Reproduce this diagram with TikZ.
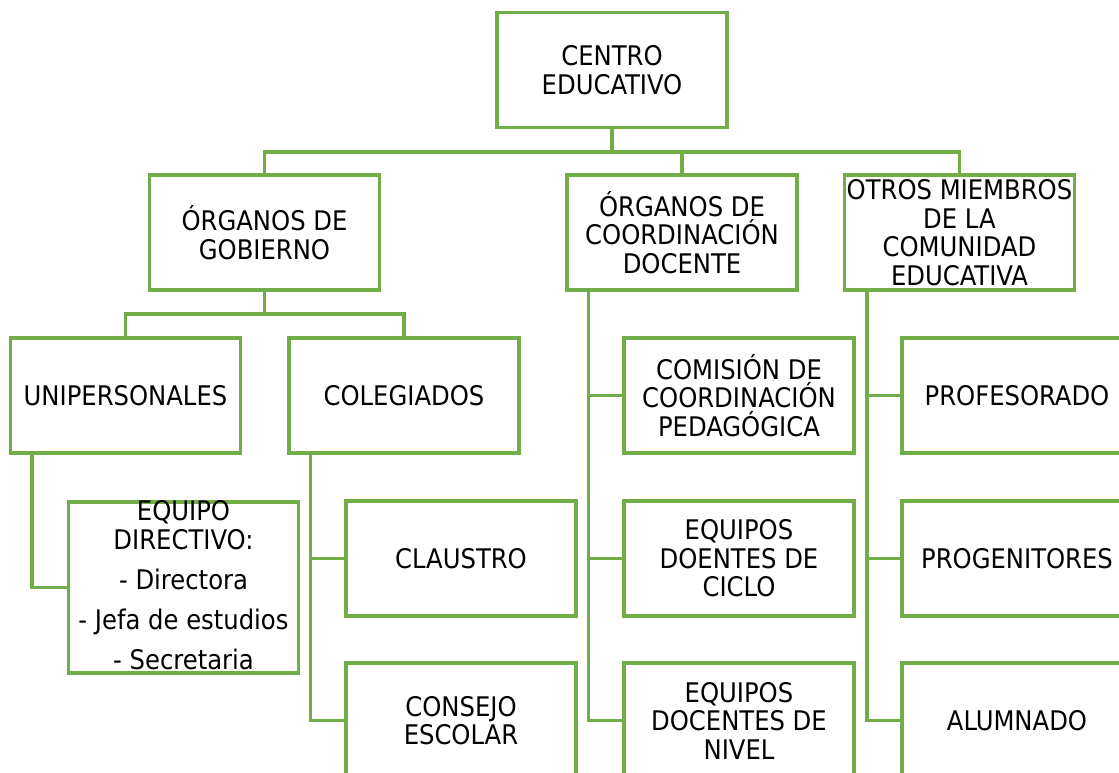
\documentclass[tikz,border=0pt]{standalone}
\usepackage{fontspec}
\setmainfont{DejaVu Sans Condensed}
\usepackage{tikz}
\usetikzlibrary{calc,positioning}
\definecolor{orgGreen}{HTML}{70AD47}

\begin{document}
\begin{tikzpicture}[x=1pt,y=-1pt]
		\useasboundingbox (0,0) rectangle (1119,773);
		\clip (0,0) rectangle (1119,773);

		\begin{scope}[every node/.style={draw=orgGreen,line width=3.2pt,fill=white,
			minimum width=230,minimum height=115,inner sep=0pt,align=center,
			font=\fontsize{27}{28.5}\selectfont}]
			\node (centro) at (612,70) {CENTRO\\EDUCATIVO};
			\node (gob) at (264.5,232.5) {ÓRGANOS DE\\GOBIERNO};
			\node (coord) at (682,232.5) {ÓRGANOS DE\\COORDINACIÓN\\DOCENTE};
			\node (otros) at (959.5,232.5) {OTROS MIEMBROS\\DE LA\\COMUNIDAD\\EDUCATIVA};
			\node (uni) at (125.5,395.5) {UNIPERSONALES};
			\node (cole) at (404,395.5) {COLEGIADOS};
			\node[minimum height=171] (equipo) at (183.5,587.5) {};
			\node (claustro) at (461,558.5) {CLAUSTRO};
			\node (consejo) at (461,720.5) {CONSEJO\\ESCOLAR};
			\node (comision) at (739,395.5) {COMISIÓN DE\\COORDINACIÓN\\PEDAGÓGICA};
			\node (ciclo) at (739,558.5) {EQUIPOS\\DOENTES DE\\CICLO};
			\node (nivel) at (739,720.5) {EQUIPOS\\DOCENTES DE\\NIVEL};
			\node (profe) at (1017,395.5) {PROFESORADO};
			\node (proge) at (1017,558.5) {PROGENITORES};
			\node (alum) at (1017,720.5) {ALUMNADO};
		\end{scope}

		% text of the tall box, allowed to spill over its border
		\node[inner sep=0pt,align=center,anchor=north,font=\fontsize{27}{28.5}\selectfont]
			(equipoTxt) at (equipo.north) {EQUIPO\\DIRECTIVO:\\[12pt]- Directora\\[11.5pt]- Jefa de estudios\\[11.5pt]- Secretaria};

		\begin{scope}[orgline/.style={draw=orgGreen,line width=3.2pt}]
			\coordinate (busTop) at (612,152);
			\coordinate (busGob) at (264.5,314);
			\coordinate (trunkUni) at ([xshift=23]uni.south west);
			\coordinate (trunkCole) at ([xshift=23]cole.south west);
			\coordinate (trunkCoord) at ([xshift=23]coord.south west);
			\coordinate (trunkOtros) at ([xshift=24]otros.south west);

			\path[orgline] (centro.south) -- (busTop);
			\path[orgline] (gob.north) |- (busTop) -| (otros.north);
			\path[orgline] (coord.north) -- (coord.north |- busTop);
			\path[orgline] (gob.south) -- (busGob);
			\path[orgline] (uni.north) |- (busGob) -| (cole.north);

			\path[orgline] (trunkUni) |- (equipo.west);
			\path[orgline] (trunkCole) |- (consejo.west);
			\path[orgline] (claustro.west) -- (claustro.west -| trunkCole);
			\path[orgline] (trunkCoord) |- (nivel.west);
			\path[orgline] (comision.west) -- (comision.west -| trunkCoord);
			\path[orgline] (ciclo.west) -- (ciclo.west -| trunkCoord);
			\path[orgline] (trunkOtros) |- (alum.west);
			\path[orgline] (profe.west) -- (profe.west -| trunkOtros);
			\path[orgline] (proge.west) -- (proge.west -| trunkOtros);
		\end{scope}
	\end{tikzpicture}
\end{document}
